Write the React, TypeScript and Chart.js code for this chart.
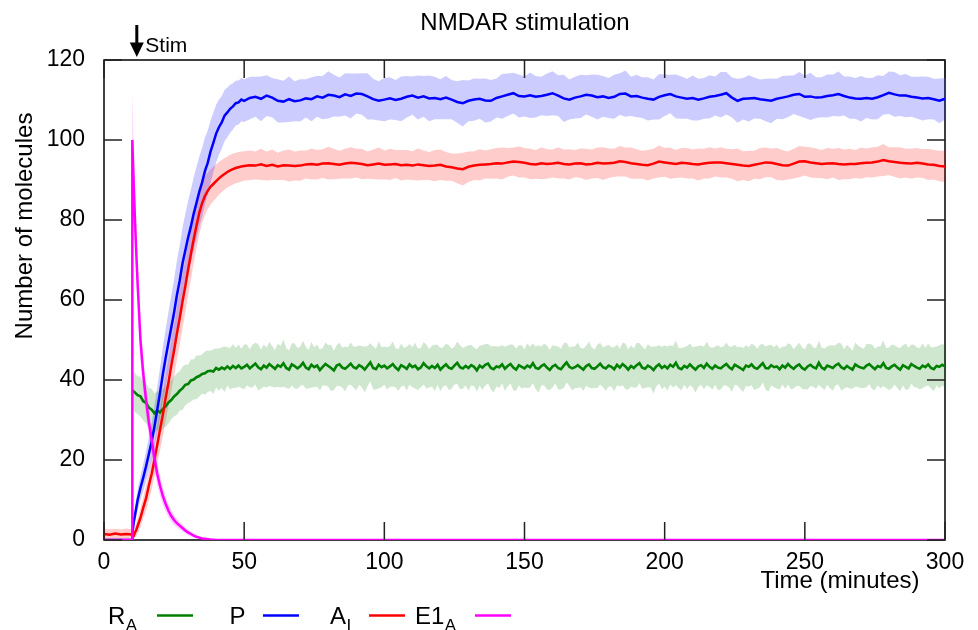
import React, { useEffect, useRef } from "react";
import { Chart, registerables } from "chart.js";

Chart.register(...registerables);

const FONT = '"Liberation Sans", Arial, Helvetica, sans-serif';

// ---------- DATA ----------
// shared time grid (minutes) for P and A_I
const T_EARLY = [0, 2, 4, 6, 8, 9.9, 10, 10.1, 10.6, 11, 11.5];
const T_GRID = [
  ...T_EARLY,
  ...Array.from({ length: 39 }, (_, i) => 12 + i),
  ...Array.from({ length: 125 }, (_, i) => 52 + 2 * i),
];

const P_MEAN = [
  0, 0, 0, 0, 0, 0, 0, 1.5, 4.5, 6, 8,
  10, 13, 15.6, 18.4, 21.5, 24.6, 28.4, 32.6, 36.9, 41.5, 45.6, 49.4, 53.1, 56.9, 61.2, 64.8, 69.1, 72.4, 75.6, 78.4,
  81.6, 84.3, 87.1, 89.4, 92.2, 94.3, 97.1, 99.3, 101.6, 103.2, 104.4, 106.1, 106.9, 107.8, 108.4, 109.2, 109.4, 110.1, 109.8,
  110.5, 110.8, 110.3, 111.1, 110.6, 109.8, 109.6, 110.2, 109.7, 109.9,
  110.4, 110.2, 110.9, 110.6, 111.3, 111.1, 110.7, 111.4, 111.0, 111.6,
  111.5, 110.9, 110.2, 109.8, 110.1, 110.4, 110.0, 110.3, 110.8, 111.1,
  110.6, 110.9, 110.4, 110.5, 110.2, 110.6, 110.1, 109.5, 109.2, 109.8,
  110.1, 110.3, 109.9, 109.8, 110.5, 110.9, 111.3, 111.7, 111.0, 110.9,
  111.2, 110.8, 111.0, 111.3, 111.7, 111.1, 110.4, 110.1, 110.6, 110.9,
  111.3, 111.1, 110.7, 110.9, 110.5, 110.8, 111.5, 111.6, 110.9, 111.0,
  110.6, 110.3, 110.1, 110.8, 111.2, 111.5, 110.9, 110.6, 110.3, 110.5,
  110.1, 110.4, 110.8, 111.0, 111.3, 111.7, 110.6, 109.8, 110.3, 110.4,
  110.5, 110.2, 110.0, 109.8, 110.3, 110.6, 110.9, 111.3, 111.5, 110.8,
  110.9, 110.6, 110.7, 111.0, 111.2, 111.5, 111.0, 110.6, 110.4, 110.3,
  110.5, 110.3, 110.7, 111.2, 111.8, 111.4, 111.1, 111.1, 110.8, 110.6,
  110.4, 110.5, 110.2, 109.8, 110.3,
];
const P_SD = [
  0, 0, 0, 0, 0, 0, 0, 0.8, 1.5, 2, 2.3,
  2.6, 3.0, 3.4, 3.8, 4.2, 4.7, 5.2, 5.7, 6.2, 6.7, 7.2, 7.6, 8.0, 8.3, 8.6, 8.8, 9.0, 9.1, 9.2, 9.2,
  9.1, 9.0, 8.8, 8.6, 8.4, 8.1, 7.8, 7.5, 7.2, 6.9, 6.6, 6.4, 6.2, 6.0, 5.8, 5.6, 5.5, 5.4, 5.3,
  5.3, 5.0, 5.6, 5.1, 4.9, 5.4, 5.2, 5.7, 5.0, 5.3,
  4.8, 5.5, 5.1, 5.4, 5.9, 5.2, 4.9, 5.3, 5.6, 5.0,
  5.2, 5.8, 5.1, 4.9, 5.4, 5.3, 5.0, 5.6, 5.2, 4.8,
  5.5, 5.1, 5.7, 5.3, 5.0, 5.4, 4.9, 5.2, 5.8, 5.1,
  5.3, 5.0, 5.5, 5.2, 4.9, 5.6, 5.3, 5.1, 5.4, 5.0,
  5.7, 5.2, 4.8, 5.3, 5.5, 5.1, 5.9, 5.0, 5.2, 5.4,
  4.9, 5.3, 5.6, 5.1, 5.0, 5.5, 5.2, 5.8, 4.9, 5.3,
  5.1, 5.4, 5.0, 5.7, 5.2, 4.8, 5.5, 5.3, 5.0, 5.6,
  5.2, 5.1, 5.4, 4.9, 5.7, 5.3, 5.0, 5.5, 5.2, 5.8,
  5.1, 4.9, 5.3, 5.6, 5.0, 5.4, 5.2, 4.8, 5.5, 5.3,
  5.9, 5.1, 5.0, 5.4, 5.2, 5.6, 4.9, 5.3, 5.1, 5.7,
  5.0, 5.2, 5.5, 4.8, 5.3, 5.6, 5.1, 5.4, 5.0, 5.2,
  5.5, 5.3, 5.1, 5.6, 5.2,
];

const AI_MEAN = [
  1.5, 1.3, 1.6, 1.4, 1.5, 1.4, 1.2, 0.8, 1.0, 1.8, 2.5,
  3.5, 5.5, 8.1, 10.4, 13.6, 16.5, 20.1, 23.8, 27.6, 31.4, 35.6, 39.4, 43.6, 47.4, 51.6, 55.4, 59.6, 63.4, 67.6, 71.5,
  75.2, 78.6, 81.8, 84.2, 86.0, 87.3, 88.3, 89.0, 89.7, 90.4, 91.0, 91.5, 92.0, 92.4, 92.7, 93.0, 93.2, 93.4, 93.5,
  93.7, 93.6, 93.9, 93.5, 93.8, 93.4, 93.7, 93.6, 93.5, 93.6,
  93.9, 94.0, 93.8, 94.1, 94.2, 94.0, 93.8, 94.1, 94.3, 94.2,
  94.0, 93.7, 93.9, 94.1, 93.8, 93.9, 94.0, 93.7, 93.8, 93.6,
  93.9, 93.7, 93.5, 93.6, 93.8, 93.4, 93.2, 92.9, 92.7, 93.3,
  93.6, 93.8, 93.9, 94.0, 94.2, 94.1, 94.4, 94.6, 94.5, 94.3,
  94.0, 93.9, 94.2, 94.0, 94.1, 94.3, 94.0, 93.9, 94.1, 94.2,
  93.9, 94.0, 94.3, 94.1, 94.2, 94.3, 94.7, 94.5, 94.2, 94.0,
  93.8, 93.7, 94.1, 94.6, 94.4, 94.2, 94.0, 94.3, 94.2, 94.0,
  93.9, 94.1, 94.3, 94.4, 94.4, 94.2, 94.0, 93.8, 93.6, 93.5,
  93.8, 94.1, 94.4, 94.3, 94.0, 93.7, 93.6, 94.1, 94.6, 94.7,
  94.4, 94.2, 94.0, 94.1, 94.2, 94.0, 93.9, 94.0, 94.0, 94.2,
  94.3, 94.4, 94.6, 95.0, 94.7, 94.5, 94.3, 94.2, 94.1, 94.3,
  94.1, 93.9, 93.8, 93.5, 93.4,
];
const AI_SD = [
  1.3, 1.4, 1.2, 1.3, 1.4, 1.3, 1.1, 0.9, 1.0, 1.3, 1.6,
  1.9, 2.3, 2.7, 3.1, 3.5, 3.9, 4.3, 4.7, 5.1, 5.5, 5.8, 6.1, 6.3, 6.5, 6.6, 6.7, 6.7, 6.6, 6.5, 6.3,
  6.0, 5.7, 5.4, 5.1, 4.8, 4.6, 4.4, 4.3, 4.2, 4.1, 4.0, 3.95, 3.9, 3.9, 3.85, 3.8, 3.8, 3.75, 3.7,
  3.7, 3.5, 3.9, 3.6, 3.8, 3.4, 3.7, 4.0, 3.6, 3.8,
  3.5, 3.9, 3.7, 3.6, 4.1, 3.8, 3.5, 3.7, 3.9, 3.6,
  3.8, 3.4, 3.7, 4.0, 3.6, 3.9, 3.5, 3.8, 3.7, 3.6,
  4.0, 3.7, 3.5, 3.9, 3.8, 3.6, 3.4, 3.7, 4.1, 3.8,
  3.6, 3.9, 3.5, 3.7, 3.8, 4.0, 3.6, 3.5, 3.9, 3.7,
  3.8, 3.6, 4.0, 3.7, 3.5, 3.9, 3.6, 3.8, 3.4, 3.7,
  3.9, 3.6, 3.8, 4.1, 3.7, 3.5, 3.8, 3.6, 3.9, 3.7,
  3.5, 3.8, 3.7, 4.0, 3.6, 3.9, 3.5, 3.7, 3.8, 3.6,
  4.0, 3.7, 3.9, 3.5, 3.8, 3.6, 3.7, 4.1, 3.6, 3.8,
  3.5, 3.9, 3.7, 3.6, 4.0, 3.8, 3.5, 3.7, 3.9, 3.6,
  3.8, 3.7, 3.5, 3.9, 3.6, 4.0, 3.7, 3.8, 3.5, 3.9,
  3.6, 3.8, 3.7, 4.0, 3.5, 3.7, 3.9, 3.6, 3.8, 3.7,
  3.6, 3.9, 3.7, 3.8, 3.9,
];

// E1_A (own time grid)
const E1_T = [0, 10, 10.1, 10.6, 11, 11.5, 12, 13, 14, 15, 16, 17, 18, 19, 20, 21, 22, 23, 24, 25, 26, 27, 28, 29, 30, 31, 32, 33, 34, 35, 36, 37, 38, 39, 40, 300];
const E1_MEAN = [0, 0, 100, 89, 81, 72, 64, 50, 41.5, 35, 29.5, 25, 20.5, 16.5, 13.5, 11, 9, 7.3, 6, 5, 4.2, 3.6, 3.0, 2.4, 1.9, 1.5, 1.1, 0.8, 0.6, 0.4, 0.3, 0.2, 0.1, 0.05, 0, 0];
const E1_SD = [0, 0, 12, 9, 7.5, 6.5, 5.5, 4.8, 4.3, 4, 3.7, 3.4, 3.1, 2.8, 2.5, 2.2, 1.9, 1.7, 1.5, 1.3, 1.1, 1.0, 0.9, 0.8, 0.7, 0.6, 0.5, 0.4, 0.35, 0.3, 0.25, 0.2, 0.15, 0.1, 0.05, 0];

// R_A, sampled every minute from t = 10
const RA_START = 10;
const RA_MEAN = [
  37.5, 36.9, 36.2, 35.9, 34.7, 34.3, 33.1, 32.6, 31.7, 32.4,
  31.9, 32.8, 33.4, 34.4, 35.0, 35.9, 36.5, 37.3, 37.9, 38.8,
  39.0, 39.9, 40.1, 40.7, 41.0, 41.5, 41.7, 42.2, 42.3, 42.1,
  43.0, 42.6, 43.1, 42.7, 43.4, 42.8, 43.5, 43.0, 43.6, 42.9, 43.3,
  43.8, 42.9, 43.5, 44.1, 43.2, 42.7, 43.6, 43.1, 44.0, 43.4,
  42.8, 43.7, 43.3, 44.2, 43.0, 42.6, 43.9, 43.5, 42.9, 43.4,
  44.3, 43.1, 42.7, 43.8, 43.2, 43.6, 42.5, 43.3, 44.0, 43.5,
  43.0, 42.4, 43.6, 43.9, 43.1, 42.8, 43.4, 44.1, 43.2, 42.9,
  43.7, 43.3, 42.6, 43.5, 44.4, 43.0, 42.7, 43.8, 43.2, 43.6,
  42.9, 43.4, 44.0, 43.1, 42.5, 43.7, 43.3, 42.8, 43.9, 43.2,
  43.6, 42.7, 43.1, 44.2, 43.4, 42.9, 43.5, 43.0, 43.8, 42.6,
  43.3, 43.9, 43.1, 42.8, 43.6, 44.3, 43.2, 42.9, 43.5, 43.0,
  43.7, 43.3, 42.4, 43.6, 43.1, 43.8, 44.1, 43.0, 42.7, 43.4,
  43.2, 43.9, 42.8, 43.5, 44.0, 43.1, 42.6, 43.7, 43.3, 42.9,
  43.6, 43.2, 44.2, 43.0, 42.8, 43.5, 43.9, 43.1, 42.5, 43.4,
  43.8, 43.0, 42.7, 43.6, 44.4, 43.3, 42.9, 43.2, 43.7, 43.1,
  42.6, 43.5, 43.9, 43.0, 42.8, 43.4, 44.1, 43.2, 42.9, 43.6,
  43.3, 42.7, 43.8, 43.1, 44.0, 43.4, 42.6, 43.5, 43.0, 43.7,
  44.2, 43.1, 42.8, 43.6, 43.2, 42.5, 43.4, 43.9, 43.0, 43.5,
  42.9, 43.8, 43.3, 44.3, 43.0, 42.7, 43.5, 43.1, 43.9, 43.2,
  42.6, 43.4, 43.7, 43.0, 44.1, 43.3, 42.8, 43.6, 43.1, 42.9,
  43.5, 44.0, 43.2, 42.7, 43.8, 43.4, 43.0, 42.5, 43.6, 43.3,
  43.9, 43.1, 42.8, 43.5, 44.2, 43.0, 42.9, 43.7, 43.2, 43.4,
  42.7, 43.6, 43.1, 44.0, 43.3, 42.8, 43.5, 43.9, 43.0, 42.6,
  43.4, 43.8, 43.2, 42.9, 44.3, 43.1, 42.7, 43.6, 43.3, 43.0,
  43.7, 44.1, 43.2, 42.8, 43.5, 43.0, 42.6, 43.9, 43.4, 43.1,
  42.9, 43.6, 44.0, 43.3, 42.7, 43.5, 43.2, 44.2, 43.0, 42.8,
  43.4, 43.8, 43.1, 42.6, 43.7, 43.3, 42.9, 44.0, 43.5, 43.1,
  42.8, 43.6, 43.2, 43.9, 43.0, 42.7, 43.5, 43.3, 43.8, 43.4,
];
const RA_SD = [
  4.6, 4.9, 4.7, 5.0, 4.8, 5.1, 4.9, 5.2, 5.0, 4.8,
  5.2, 4.9, 5.1, 5.3, 4.8, 5.0, 5.2, 4.9, 5.4, 5.1,
  4.8, 5.3, 5.0, 5.5, 5.1, 4.9, 5.4, 5.2, 5.0, 5.6,
  4.9, 5.3, 5.1, 5.7, 4.8, 5.2, 5.5, 5.0, 5.3, 4.9,
  5.6, 5.1, 4.8, 5.4, 5.2, 5.8, 4.9, 5.3, 5.0, 5.5,
  5.1, 4.7, 5.4, 5.2, 5.9, 5.0, 4.8, 5.3, 5.6, 5.1,
  4.9, 5.5, 5.2, 4.8, 5.7, 5.0, 5.3, 5.1, 4.7, 5.4,
  5.2, 5.8, 4.9, 5.1, 5.4, 5.0, 5.6, 4.8, 5.3, 5.1,
  5.5, 4.9, 5.2, 5.7, 5.0, 4.8, 5.4, 5.1, 5.9, 5.0,
  4.8, 5.3, 5.1, 5.6, 4.9, 5.2, 5.4, 4.7, 5.5, 5.1,
  5.0, 5.7, 5.2, 4.9, 5.3, 5.5, 4.8, 5.1, 5.8, 5.0,
  5.4, 4.9, 5.2, 5.6, 5.0, 4.7, 5.3, 5.5, 5.1, 4.9,
  5.7, 5.1, 4.8, 5.3, 5.0, 5.6, 5.2, 4.9, 5.4, 5.8,
  5.0, 5.2, 4.8, 5.5, 5.1, 4.9, 5.7, 5.3, 5.0, 5.4,
  4.8, 5.6, 5.1, 5.0, 5.3, 5.9, 4.9, 5.2, 5.5, 5.0,
  5.3, 4.7, 5.4, 5.1, 5.6, 5.0, 4.8, 5.5, 5.2, 5.7,
  4.9, 5.3, 5.0, 5.8, 5.1, 4.8, 5.4, 5.2, 5.0, 5.6,
  5.2, 4.9, 5.5, 5.1, 4.7, 5.3, 5.7, 5.0, 5.2, 4.9,
  5.6, 5.0, 5.3, 4.8, 5.4, 5.1, 5.9, 5.0, 4.8, 5.3,
  5.1, 5.5, 4.9, 5.2, 5.6, 5.0, 5.3, 4.7, 5.4, 5.2,
  5.0, 5.8, 5.1, 4.9, 5.3, 5.5, 5.0, 5.2, 4.8, 5.6,
  5.3, 4.9, 5.4, 5.1, 5.7, 5.0, 4.8, 5.3, 5.5, 5.1,
  4.9, 5.2, 5.6, 5.0, 5.3, 4.8, 5.4, 5.8, 5.1, 5.0,
  5.5, 5.1, 4.7, 5.3, 5.2, 5.6, 4.9, 5.0, 5.4, 5.2,
  5.0, 5.7, 5.3, 4.9, 5.1, 5.5, 5.0, 5.2, 4.8, 5.4,
  5.6, 5.0, 5.2, 5.9, 4.9, 5.3, 5.1, 4.8, 5.5, 5.2,
  5.1, 4.9, 5.4, 5.0, 5.6, 5.2, 4.8, 5.3, 5.7, 5.0,
  5.3, 5.5, 4.9, 5.1, 5.4, 5.0, 5.8, 5.2, 4.9, 5.3,
  5.0, 5.2, 5.6, 4.8, 5.3, 5.1, 5.5, 4.9, 5.4, 5.2,
  5.3,
];
const RA_T = RA_MEAN.map((_, i) => RA_START + i);

const X_TICKS = [0, 50, 100, 150, 200, 250, 300];
const Y_TICKS = [0, 20, 40, 60, 80, 100, 120];
const STIM_T = 11.7;

const TITLE = "NMDAR stimulation";
const X_TITLE = "Time (minutes)";
const Y_TITLE = "Number of molecules";

// ---------- helpers ----------
type Pt = { x: number; y: number };
const pts = (t: number[], v: number[]): Pt[] => t.map((x, i) => ({ x, y: v[i] }));
const edge = (t: number[], m: number[], s: number[], sign: number): Pt[] =>
  t.map((x, i) => ({ x, y: m[i] + sign * s[i] }));

const SERIES = [
  { key: "RA", t: RA_T, m: RA_MEAN, s: RA_SD, line: "#008000", band: "rgba(0,128,0,0.19)", order: 4, w: 2.6 },
  { key: "P", t: T_GRID, m: P_MEAN, s: P_SD, line: "#0000ff", band: "rgba(0,0,255,0.2)", order: 3, w: 2.5 },
  { key: "AI", t: T_GRID, m: AI_MEAN, s: AI_SD, line: "#ff0000", band: "rgba(255,0,0,0.2)", order: 2, w: 2.5 },
  { key: "E1", t: E1_T, m: E1_MEAN, s: E1_SD, line: "#ff00ff", band: "rgba(255,0,255,0.2)", order: 1, w: 2.5 },
];

const decor = {
  id: "decor",
  beforeDatasetsDraw(chart: any) {
    const { ctx, chartArea: a } = chart;
    ctx.save();
    ctx.strokeStyle = "#000";
    ctx.lineWidth = 1.5;
    ctx.strokeRect(a.left, a.top, a.right - a.left, a.bottom - a.top);
    ctx.restore();
  },
  afterDatasetsDraw(chart: any) {
    const { ctx, chartArea: a, scales } = chart;
    const L = 18;
    ctx.save();
    ctx.strokeStyle = "#222";
    ctx.lineWidth = 1.5;
    ctx.beginPath();
    for (const v of X_TICKS) {
      const px = scales.x.getPixelForValue(v);
      ctx.moveTo(px, a.bottom);
      ctx.lineTo(px, a.bottom - L);
      ctx.moveTo(px, a.top);
      ctx.lineTo(px, a.top + L);
    }
    for (const v of Y_TICKS) {
      const py = scales.y.getPixelForValue(v);
      ctx.moveTo(a.left, py);
      ctx.lineTo(a.left + L, py);
      ctx.moveTo(a.right, py);
      ctx.lineTo(a.right - L, py);
    }
    ctx.stroke();
    ctx.restore();
  },
  afterDraw(chart: any) {
    const { ctx, scales } = chart;
    ctx.save();
    ctx.fillStyle = "#000";
    ctx.textBaseline = "alphabetic";
    // title
    ctx.font = `24px ${FONT}`;
    ctx.textAlign = "center";
    ctx.fillText(TITLE, 525, 30);
    // x title
    ctx.fillText(X_TITLE, 840, 588);
    // y title
    ctx.save();
    ctx.translate(32, 226);
    ctx.rotate(-Math.PI / 2);
    ctx.fillText(Y_TITLE, 0, 0);
    ctx.restore();
    // Stim arrow
    const sx = scales.x.getPixelForValue(STIM_T);
    ctx.strokeStyle = "#000";
    ctx.lineWidth = 3;
    ctx.beginPath();
    ctx.moveTo(sx, 25);
    ctx.lineTo(sx, 46);
    ctx.stroke();
    ctx.beginPath();
    ctx.moveTo(sx - 7, 42.5);
    ctx.lineTo(sx + 7, 42.5);
    ctx.lineTo(sx, 57);
    ctx.closePath();
    ctx.fill();
    ctx.textAlign = "left";
    ctx.font = `21px ${FONT}`;
    ctx.fillText("Stim", sx + 8.5, 51.5);

    // legend
    const base = 624;
    const main = `24px ${FONT}`;
    const sub = `17px ${FONT}`;
    const item = (txt: string, subTxt: string, tx: number, lx: number, color: string) => {
      ctx.font = main;
      ctx.fillStyle = "#000";
      ctx.fillText(txt, tx, base);
      const w = ctx.measureText(txt).width;
      if (subTxt) {
        ctx.font = sub;
        ctx.fillText(subTxt, tx + w + 0.5, base + 7);
      }
      ctx.strokeStyle = color;
      ctx.lineWidth = 2.5;
      ctx.beginPath();
      ctx.moveTo(lx, 615.5);
      ctx.lineTo(lx + 36, 615.5);
      ctx.stroke();
    };
    item("R", "A", 108, 157, SERIES[0].line);
    item("P", "", 229.5, 263, SERIES[1].line);
    item("A", "I", 330, 369, SERIES[2].line);
    item("E1", "A", 415, 475, SERIES[3].line);
    ctx.restore();
  },
};

export default function App() {
  const ref = useRef<HTMLCanvasElement | null>(null);
  useEffect(() => {
    if (!ref.current) return;
    const datasets: any[] = [];
    // lines first
    for (const s of SERIES) {
      datasets.push({
        label: s.key,
        data: pts(s.t, s.m),
        borderColor: s.line,
        borderWidth: s.w,
        pointRadius: 0,
        tension: 0,
        fill: false,
        order: s.order,
      });
    }
    // bands
    SERIES.forEach((s, k) => {
      const upperIdx = datasets.length;
      datasets.push({
        label: s.key + "_hi",
        data: edge(s.t, s.m, s.s, 1),
        borderWidth: 0,
        borderColor: "rgba(0,0,0,0)",
        pointRadius: 0,
        tension: 0,
        fill: { target: upperIdx + 1 },
        backgroundColor: s.band,
        order: 10 + k,
      });
      datasets.push({
        label: s.key + "_lo",
        data: edge(s.t, s.m, s.s, -1),
        borderWidth: 0,
        borderColor: "rgba(0,0,0,0)",
        pointRadius: 0,
        tension: 0,
        fill: false,
        order: 10 + k,
      });
    });

    const chart = new Chart(ref.current, {
      type: "line",
      data: { datasets },
      options: {
        animation: false,
        responsive: false,
        maintainAspectRatio: false,
        parsing: false as any,
        normalized: true,
        layout: { padding: { left: 0, top: 60, right: 33, bottom: 0 } },
        plugins: {
          legend: { display: false },
          title: { display: false },
          tooltip: { enabled: false },
        },
        scales: {
          x: {
            type: "linear",
            min: 0,
            max: 300,
            afterFit: (sc: any) => {
              sc.height = 90;
            },
            afterBuildTicks: (sc: any) => {
              sc.ticks = X_TICKS.map((v) => ({ value: v }));
            },
            grid: { display: false, drawTicks: false },
            border: { display: false },
            ticks: {
              color: "#000",
              font: { family: FONT, size: 23 },
              padding: 9,
              maxRotation: 0,
              autoSkip: false,
            },
          },
          y: {
            type: "linear",
            min: 0,
            max: 120,
            afterFit: (sc: any) => {
              sc.width = 104;
            },
            afterBuildTicks: (sc: any) => {
              sc.ticks = Y_TICKS.map((v) => ({ value: v }));
            },
            grid: { display: false, drawTicks: false },
            border: { display: false },
            ticks: {
              color: "#000",
              font: { family: FONT, size: 23 },
              padding: 19,
              autoSkip: false,
            },
          },
        },
      },
      plugins: [decor],
    });
    return () => chart.destroy();
  }, []);

  return (
    <div style={{ position: "fixed", left: 0, top: 0, width: 978, height: 630, background: "#fff" }}>
      <canvas ref={ref} width={978} height={630} style={{ width: 978, height: 630, display: "block" }} />
    </div>
  );
}
